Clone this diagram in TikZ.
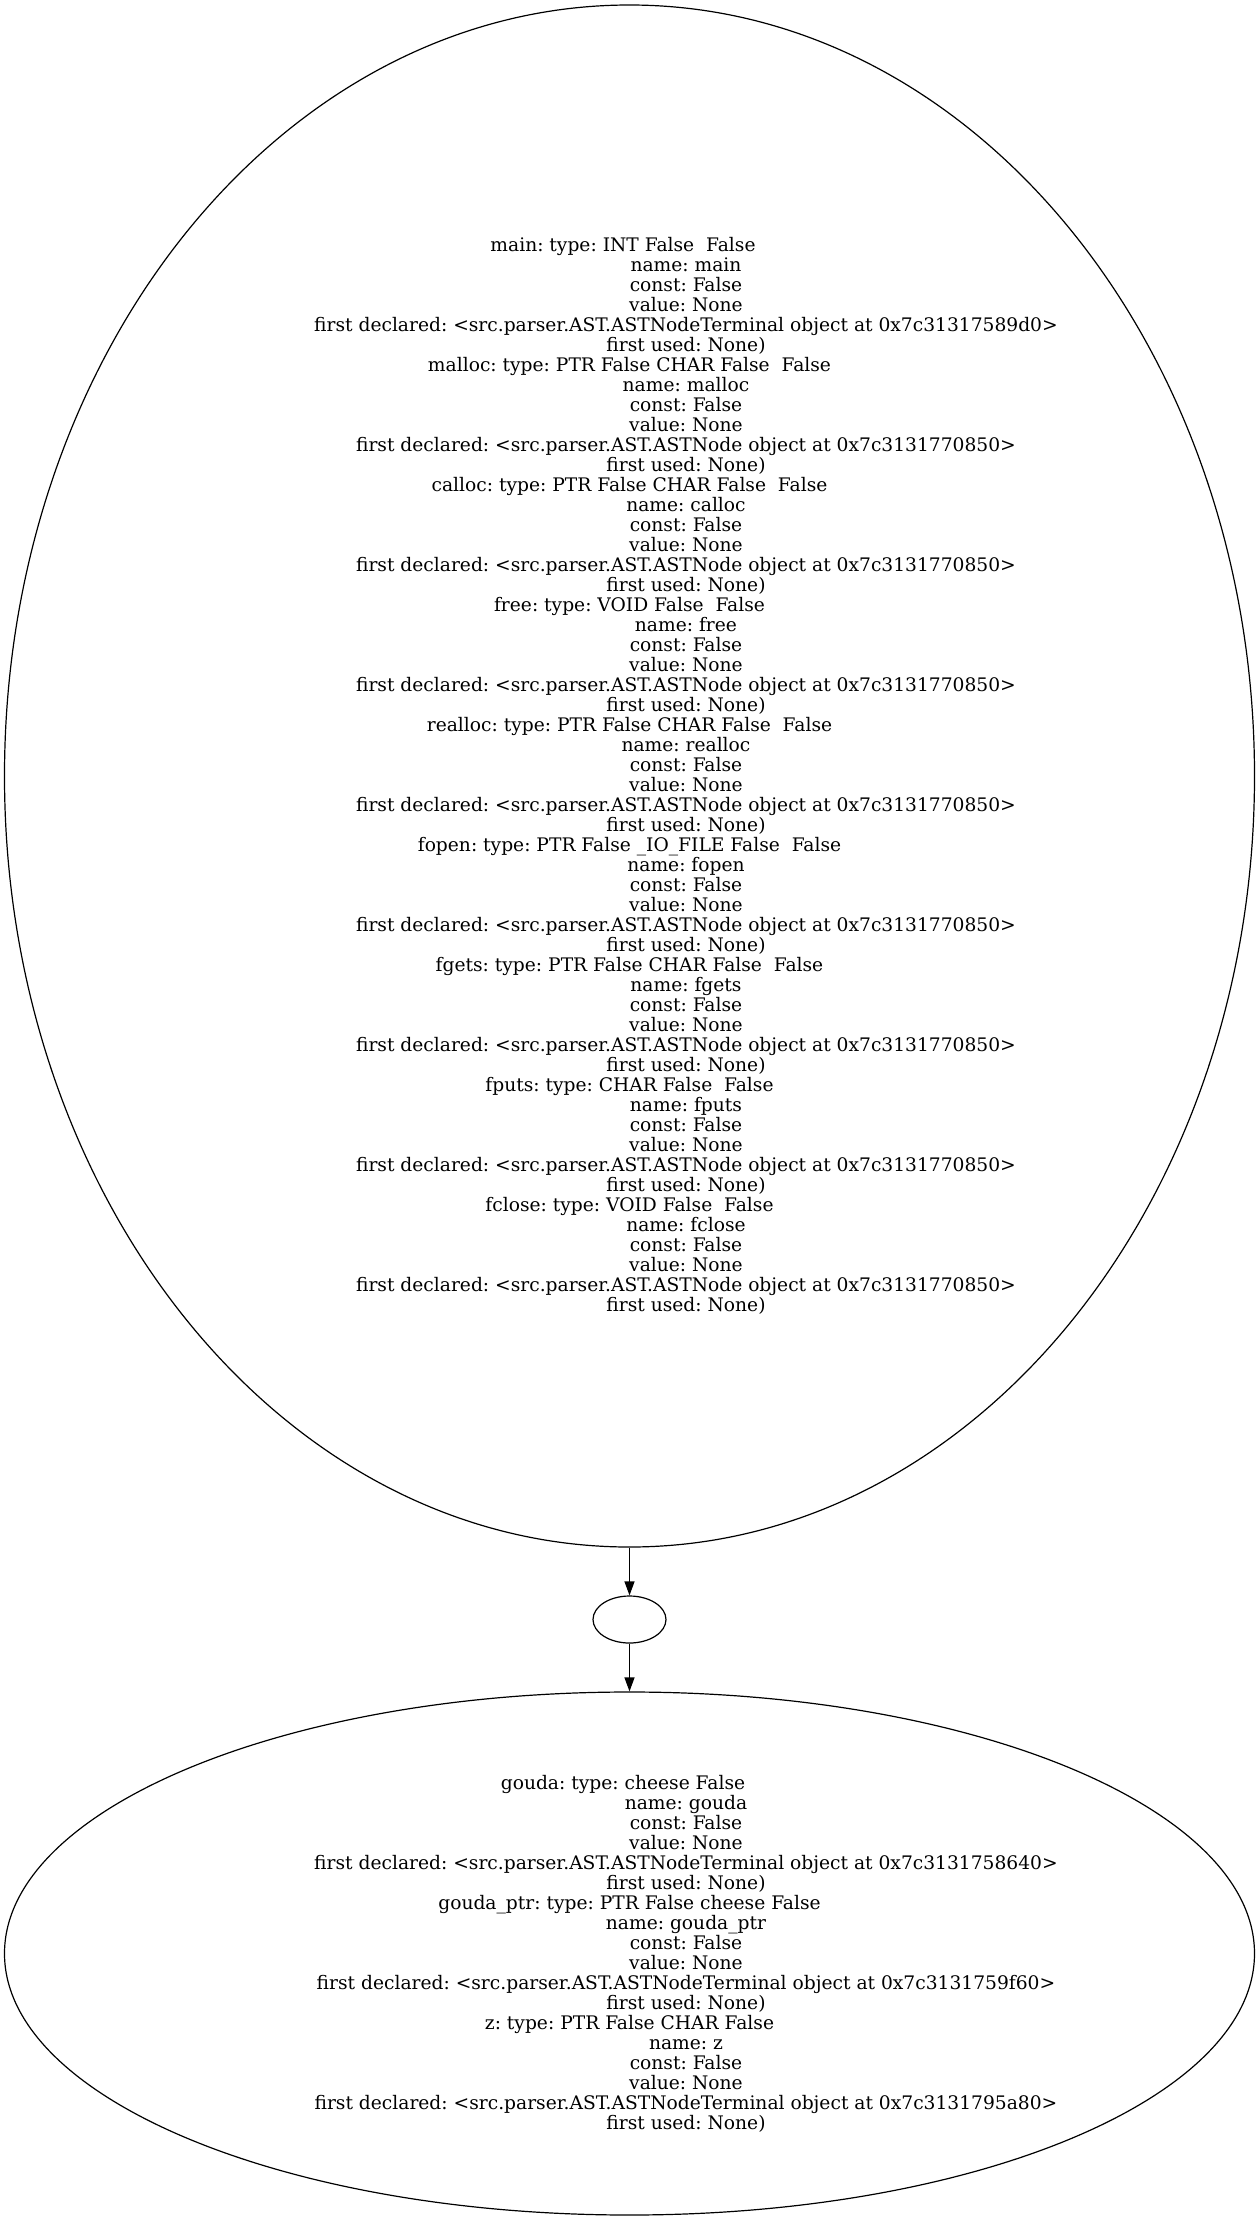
\documentclass[tikz,border=0pt]{standalone}
\usepackage{fontspec}
\setmainfont{DejaVu Serif}
\frenchspacing
\usetikzlibrary{shapes.geometric,arrows.meta}
\newcommand{\ind}{\hspace*{84.75pt}}
\newcommand{\entry}[3]{#1: type: #2\hspace*{9.75pt}\\
  \ind name: #1\\ \ind const: False\\ \ind value: None\\
  \ind first declared: <src.parser.AST.#3>\\ \ind first used: None)}
\tikzset{scopenode/.style={draw,ellipse,line width=0.9pt,inner sep=0pt,
    align=center,font=\fontsize{14}{15}\selectfont},
  edge/.style={line width=0.9pt,-{Triangle[length=10.5pt,width=7.5pt]}}}
\begin{document}
\begin{tikzpicture}[x=0.75pt,y=-0.75pt]
  \useasboundingbox (0,0) rectangle (1259,2221);
  \node[scopenode,minimum width=937.5pt,minimum height=1156.5pt] (glob) at (629.5,776)
    {\entry{main}{INT False~ False}{ASTNodeTerminal object at 0x7c31317589d0}\\
     \entry{malloc}{PTR False CHAR False~ False}{ASTNode object at 0x7c3131770850}\\
     \entry{calloc}{PTR False CHAR False~ False}{ASTNode object at 0x7c3131770850}\\
     \entry{free}{VOID False~ False}{ASTNode object at 0x7c3131770850}\\
     \entry{realloc}{PTR False CHAR False~ False}{ASTNode object at 0x7c3131770850}\\
     \entry{fopen}{PTR False \_IO\_FILE False~ False}{ASTNode object at 0x7c3131770850}\\
     \entry{fgets}{PTR False CHAR False~ False}{ASTNode object at 0x7c3131770850}\\
     \entry{fputs}{CHAR False~ False}{ASTNode object at 0x7c3131770850}\\
     \entry{fclose}{VOID False~ False}{ASTNode object at 0x7c3131770850}};
  \node[scopenode,minimum width=54.75pt,minimum height=35.25pt] (mid) at (629.5,1619.5) {};
  \node[scopenode,minimum width=937.5pt,minimum height=392.25pt] (loc) at (629.5,1953.5)
    {\entry{gouda}{cheese False}{ASTNodeTerminal object at 0x7c3131758640}\\
     \entry{gouda\_ptr}{PTR False cheese False}{ASTNodeTerminal object at 0x7c3131759f60}\\
     \entry{z}{PTR False CHAR False}{ASTNodeTerminal object at 0x7c3131795a80}};
  \draw[edge] (glob) -- (mid);
  \draw[edge] (mid) -- (loc);
\end{tikzpicture}
\end{document}
